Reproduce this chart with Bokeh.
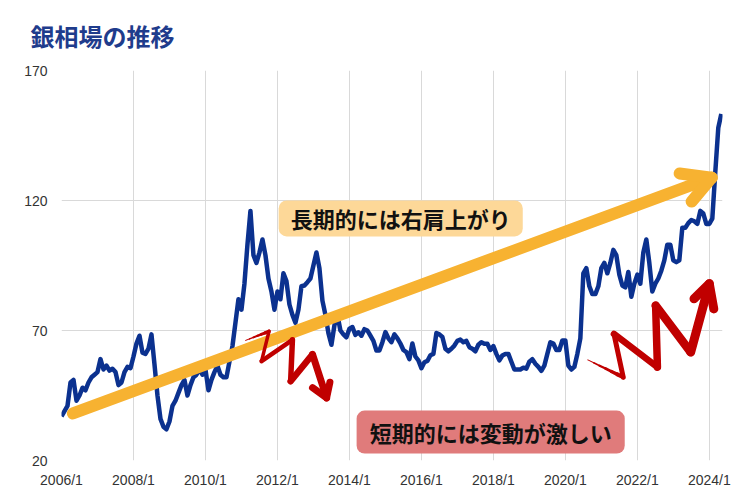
from bokeh.plotting import figure
from bokeh.models import BoxAnnotation, Label, FixedTicker, Range1d, ColumnDataSource
from bokeh.embed import file_html
from bokeh.resources import INLINE

# ---------------- data ----------------
start_year = 2006
prices = [
    37, 39, 41, 50, 51, 43, 45, 48, 47, 50, 52, 53,                 # 2006
    54, 59, 55, 56.5, 54.6, 55.3, 54, 49, 50, 54, 56, 55.5,         # 2007
    60, 65, 68, 61.5, 61, 63, 68.5, 57, 45, 36, 33, 32,             # 2008
    35, 41, 43, 46, 49, 51, 45, 49, 52, 53, 55, 53,                 # 2009
    55, 47, 51, 54, 56.5, 53, 52, 52, 58, 64, 73, 82,               # 2010
    78, 88, 103, 116, 99, 96, 100, 105, 99, 90, 85, 78,             # 2011
    85, 82, 92, 89, 80, 76, 73, 78, 87, 87.3, 88.6, 90,             # 2012
    95, 100, 94, 81.5, 76, 69, 64.5, 72, 76, 70, 68.5, 67.4,        # 2013
    70.7, 71.3, 68.3, 69.3, 68, 70.5, 70, 68, 66, 62.3, 62.3, 65.5, # 2014
    69.4, 67, 65.5, 68.5, 67, 65, 62.5, 61.7, 59, 65, 60, 58.5,     # 2015
    55.5, 57.8, 58.3, 60.5, 61, 69, 68.5, 67.5, 63, 62, 63, 64.2,   # 2016
    66, 66.5, 65.5, 66, 63.6, 63, 62, 64.5, 65.5, 64.9, 64.9, 62.5, # 2017
    64, 61, 58.5, 60.4, 61, 61, 58, 55, 55, 55, 55.7, 55.3,         # 2018
    58, 59, 57.2, 56, 54.5, 56.5, 61, 65.5, 65, 62.5, 62.5, 66.2,   # 2019
    66.2, 56.5, 55, 56, 61, 67, 92, 94, 87, 84, 84, 87,             # 2020
    94, 96, 92, 96, 101, 99, 91.5, 87.3, 86.6, 92.5, 83, 88,        # 2021
    91.5, 88, 100, 105, 96, 85, 88, 90, 93, 97, 103, 103,           # 2022
    97, 96.3, 97, 109.5, 109.5, 111.3, 112.5, 112, 111, 116, 115, 111,  # 2023
    111, 113, 131, 148, 153.3,                                      # 2024
]
months = [f"{start_year + i // 12}/{i % 12 + 1}" for i in range(len(prices))]
month_index = list(range(len(prices)))
tick_labels = ["2006/1", "2008/1", "2010/1", "2012/1", "2014/1",
               "2016/1", "2018/1", "2020/1", "2022/1", "2024/1"]
tick_positions = [months.index(t) for t in tick_labels]
y_ticks = [20, 70, 120, 170]

title_text = "銀相場の推移"
note_long = "長期的には右肩上がり"
note_short = "短期的には変動が激しい"

# ---------------- figure ----------------
p = figure(output_backend="svg", toolbar_location=None,
           frame_width=661, frame_height=390,
           min_border_left=61, min_border_right=20,
           min_border_top=70, min_border_bottom=32,
           x_range=Range1d(0, 220.4), y_range=Range1d(20, 170),
           background_fill_color="white", border_fill_color="white")
p.outline_line_color = None

p.title.text = title_text
p.title.text_font = "Noto Sans CJK JP"
p.title.text_font_size = "24px"
p.title.text_font_style = "bold"
p.title.text_color = "#1F3C8C"
p.title.align = "left"
p.title.vertical_align = "top"
p.title.offset = -31
p.title.standoff = 32

for ax in (p.xaxis[0], p.yaxis[0]):
    ax.axis_line_color = None
    ax.major_tick_line_color = None
    ax.minor_tick_line_color = None
    ax.major_label_text_font = "Liberation Sans"
    ax.major_label_text_font_size = "14px"
    ax.major_label_text_color = "#333333"

p.xaxis.ticker = FixedTicker(ticks=tick_positions)
p.xaxis.major_label_overrides = {pos: lab for pos, lab in zip(tick_positions, tick_labels)}
p.xaxis.major_label_standoff = 5
p.yaxis.ticker = FixedTicker(ticks=y_ticks)
p.yaxis.major_label_standoff = 8

p.xgrid.ticker = FixedTicker(ticks=tick_positions)
p.xgrid.grid_line_color = "#d9d9d9"
p.ygrid.grid_line_color = "#d9d9d9"

# price line
src = ColumnDataSource(dict(x=month_index, price=prices, month=months))
p.line("x", "price", source=src, line_color="#0B318F", line_width=4.5,
       line_join="round")

# long-term arrow (annotation geometry, data units: month index / price)
arrow_start = (3.8, 38.1)
arrow_tip = (216.8, 128.8)
arrow_arms = [(206.1, 130.4), (210.1, 119.6)]
orange = "#F7B231"
p.line([arrow_start[0], arrow_tip[0]], [arrow_start[1], arrow_tip[1]],
       line_color=orange, line_width=12, line_cap="round")
p.line([arrow_arms[0][0], arrow_tip[0], arrow_arms[1][0]],
       [arrow_arms[0][1], arrow_tip[1], arrow_arms[1][1]],
       line_color=orange, line_width=12, line_cap="round", line_join="round")


def zigzag(points, widths, head, head_width, color="#C00000"):
    xs, ys, ws = [], [], []
    # tapered first segment
    (x0, y0), (x1, y1) = points[0], points[1]
    n = 6
    for k in range(n):
        a, b = k / n, (k + 1) / n
        xs.append([x0 + (x1 - x0) * a, x0 + (x1 - x0) * b])
        ys.append([y0 + (y1 - y0) * a, y0 + (y1 - y0) * b])
        ws.append(0.5 + widths[0] * (k + 1) / n)
    for i in range(1, len(points) - 1):
        xs.append([points[i][0], points[i + 1][0]])
        ys.append([points[i][1], points[i + 1][1]])
        ws.append(widths[i])
    tip = points[-1]
    xs.append([head[0][0], tip[0], head[1][0]])
    ys.append([head[0][1], tip[1], head[1][1]])
    ws.append(head_width)
    s = ColumnDataSource(dict(xs=xs, ys=ys, w=ws))
    p.multi_line("xs", "ys", source=s, line_color=color, line_width="w",
                 line_cap="round", line_join="round")


zig1 = [(61.4, 66.2), (69.2, 69.7), (66.7, 58.2), (77.0, 66.4),
        (76.4, 50.5), (83.7, 60.8), (88.4, 44.1)]
zigzag(zig1, [3, 3.5, 4.5, 5.5, 6.5, 7], [(83.7, 48.0), (89.5, 50.1)], 7)

zig2 = [(175.5, 58.7), (187.3, 52.0), (184.2, 68.7), (198.7, 55.9),
        (198.1, 79.6), (209.8, 61.7), (216.0, 88.0)]
zigzag(zig2, [3.5, 5, 6.5, 7.5, 8.5, 9], [(210.9, 82.2), (217.5, 78.3)], 9)

# note boxes
p.add_layout(BoxAnnotation(left=72.4, right=153.8, bottom=106.2, top=120,
                           fill_color="#FDD898", fill_alpha=1, line_color=None,
                           border_radius=8, level="annotation"))
p.add_layout(Label(x=113.1, y=113.1, text=note_long, text_align="center",
                   text_baseline="middle", text_font="Noto Sans CJK JP",
                   text_font_size="22px", text_font_style="bold",
                   text_color="#111111"))
p.add_layout(BoxAnnotation(left=98.4, right=187.8, bottom=22.7, top=39.2,
                           fill_color="#E07B7B", fill_alpha=1, line_color=None,
                           border_radius=8, level="annotation"))
p.add_layout(Label(x=143.1, y=30.9, text=note_short, text_align="center",
                   text_baseline="middle", text_font="Noto Sans CJK JP",
                   text_font_size="22px", text_font_style="bold",
                   text_color="#111111"))

open("out.html", "w").write(file_html(p, INLINE))
